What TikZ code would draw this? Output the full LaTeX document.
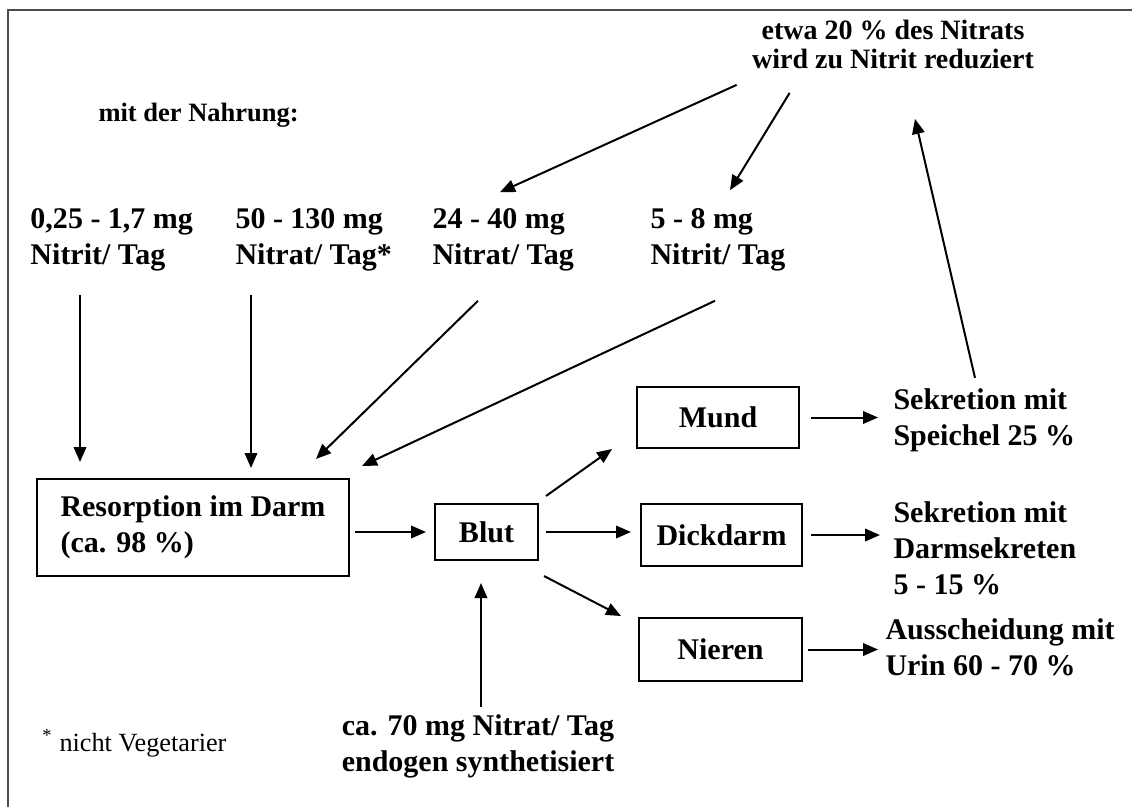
\documentclass[tikz,border=0pt]{standalone}
\usepackage{fontspec}
\setmainfont{Liberation Serif}
\usetikzlibrary{arrows.meta}

\begin{document}
\begin{tikzpicture}[x=0.4pt, y=-0.4pt,
        font=\fontsize{12}{14.4}\selectfont\bfseries,
        txt/.style={inner sep=0pt, align=left},
        box/.style={draw, line width=0.8pt, inner sep=0pt},
        pfeil/.style={-{Triangle[length=6pt, width=5pt]}, line width=0.8pt}]
        \useasboundingbox (0, 0) rectangle (1132, 807);
        \draw[black!70, line width=1pt] (8, 807) -- (8, 10) -- (1132, 10);

        \node[txt, align=center, font=\fontsize{11.2}{11.6}\selectfont\bfseries] at (893, 44) (reduz) {etwa 20 \% des Nitrats\\wird zu Nitrit reduziert};
        \node[txt, anchor=west, font=\fontsize{10.6}{12}\selectfont\bfseries] at (98, 115) (nahrung) {mit der Nahrung:};
        \node[txt, anchor=west] at (30, 240)    (nitrit_a) {0,25 - 1,7 mg\\Nitrit/ Tag};
        \node[txt, anchor=west] at (235, 240)   (nitrat_a) {50 - 130 mg\\Nitrat/ Tag*};
        \node[txt, anchor=west] at (432, 240)   (nitrat_b) {24 - 40 mg\\Nitrat/ Tag};
        \node[txt, anchor=west] at (650, 240)   (nitrit_b) {5 - 8 mg\\Nitrit/ Tag};

        \node[box, align=left, minimum width=124.8pt, minimum height=38.8pt] at (193, 527.5) (darm) {Resorption im Darm\\(ca. 98 \%)};
        \node[box, minimum width=41.2pt, minimum height=22.4pt] at (486.5, 532) (blut) {Blut};
        \node[box, minimum width=64.8pt, minimum height=24.4pt] at (718, 417.5) (mund) {Mund};
        \node[box, minimum width=64.4pt, minimum height=24.8pt] at (721.5, 535) (dick) {Dickdarm};
        \node[box, minimum width=65.2pt, minimum height=25.2pt] at (720.5, 649.5) (nieren) {Nieren};

        \node[txt, anchor=west] at (893, 420)   (speichel) {Sekretion mit\\Speichel 25 \%};
        \node[txt, anchor=west] at (893, 548)   (sekrete) {Sekretion mit\\Darmsekreten\\5 - 15 \%};
        \node[txt, anchor=west] at (885, 647)   (urin) {Ausscheidung mit\\Urin 60 - 70 \%};
        \node[txt, align=center] at (478, 746)  (endogen) {ca. 70 mg Nitrat/ Tag\\endogen synthetisiert};
        \node[txt, anchor=west, font=\fontsize{10.5}{12}\selectfont\mdseries] at (42, 743) (fussnote) {\textsuperscript{*} nicht Vegetarier};

        % Pfeilanfaenge
        \coordinate (fuss_a) at ([shift={(50, 23)}]nitrit_a.south west);
        \coordinate (fuss_b) at ([shift={(16, 23)}]nitrat_a.south west);
        \coordinate (fuss_c) at ([shift={(46, 29)}]nitrat_b.south west);
        \coordinate (fuss_d) at ([shift={(65, 29)}]nitrit_b.south west);
        \coordinate (fuss_e) at ([shift={(-15, 16)}]reduz.south west);
        \coordinate (fuss_f) at ([shift={(38, 24)}]reduz.south west);
        \coordinate (fuss_g) at ([shift={(82, -10)}]speichel.north west);
        \coordinate (fuss_h) at ([shift={(3, -7)}]endogen.north);

        \draw[pfeil, shorten >=6.4pt] (fuss_a) -- (fuss_a |- darm.north);
        \draw[pfeil, shorten >=4pt] (fuss_b) -- (fuss_b |- darm.north);
        \draw[pfeil] (fuss_c) -- ([shift={(-34, -19)}]darm.north east);
        \draw[pfeil] (fuss_d) -- ([shift={(12, -12)}]darm.north east);
        \draw[pfeil] (fuss_e) -- ([shift={(68, -16)}]nitrat_b.north west);
        \draw[pfeil] (fuss_f) -- ([shift={(80, -18)}]nitrit_b.north west);
        \draw[pfeil] (fuss_g) -- ([shift={(22, 50)}]reduz.south);

        \draw[pfeil, shorten <=2pt, shorten >=3.2pt] (darm.east |- blut.west) -- (blut.west);
        \draw[pfeil] ([shift={(7, -7)}]blut.north east) -- ([shift={(-24, 0)}]mund.south west);
        \draw[pfeil, shorten <=2.8pt, shorten >=3.6pt] (blut.east) -- (blut.east -| dick.west);
        \draw[pfeil] ([shift={(5, 15)}]blut.south east) -- ([shift={(-17, -1)}]nieren.north west);
        \draw[pfeil, shorten >=8.8pt] (fuss_h) -- (fuss_h |- blut.south);

        \draw[pfeil, shorten <=4.4pt, shorten >=6pt] (mund.east) -- (mund.east -| speichel.west);
        \draw[pfeil, shorten <=3.2pt, shorten >=5.2pt] (dick.east) -- (dick.east -| sekrete.west);
        \draw[pfeil, shorten <=2pt, shorten >=2.8pt] (nieren.east) -- (nieren.east -| urin.west);
\end{tikzpicture}
\end{document}
